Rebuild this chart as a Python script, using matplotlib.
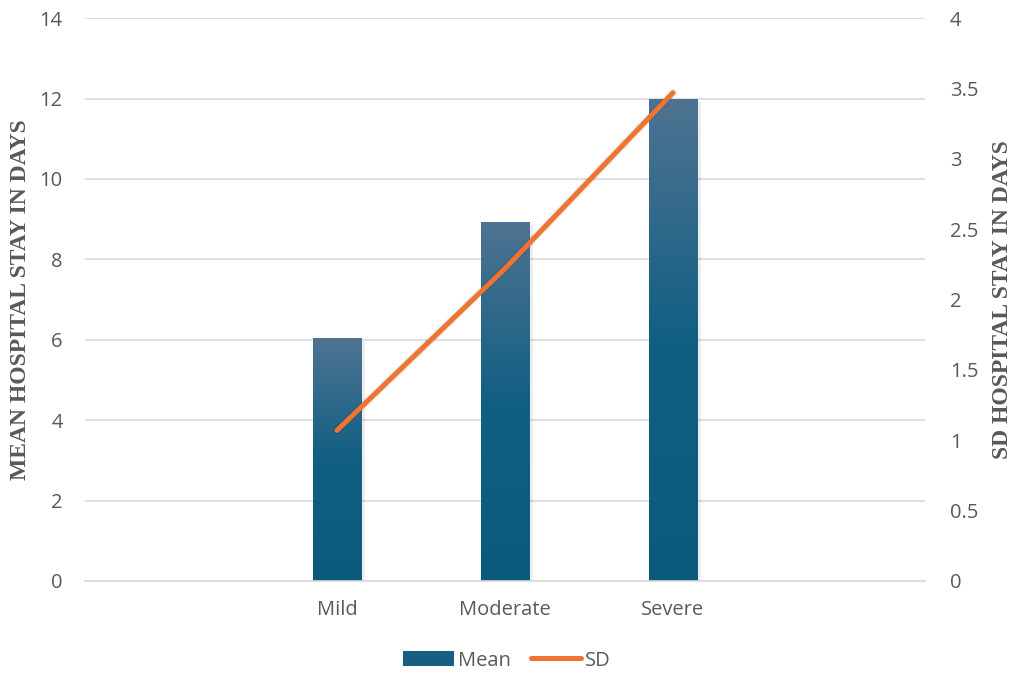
import numpy as np
import matplotlib
matplotlib.use('Agg')
import matplotlib.pyplot as plt
from matplotlib.colors import LinearSegmentedColormap
from matplotlib.lines import Line2D
from matplotlib.patches import Patch

# data
categories = ['Mild', 'Moderate', 'Severe']
mean_days = [6.05, 8.93, 12.0]
sd_days = [1.07, 2.22, 3.47]

grey = '#595959'
bar_top = '#4f7392'
bar_bottom = '#0b5a7d'
line_col = '#ed7431'

plt.rcParams['font.family'] = ['Open Sans', 'DejaVu Sans']

fig = plt.figure(figsize=(10.14, 6.74), dpi=100)
ax = fig.add_axes([0.0838, 0.138, 0.8284, 0.835])
ax2 = ax.twinx()

x = np.arange(len(categories))
width = 0.29

# soft shadow behind bars
ax.bar(x + 0.02, mean_days, width, bottom=-0.08, color='#000000', alpha=0.07, zorder=1)
bars = ax.bar(x, mean_days, width, color='none', zorder=2)

# vertical gradient in each bar
cmap = LinearSegmentedColormap.from_list('bar', [bar_bottom, '#115f83', bar_top])
grad = np.linspace(0, 1, 256).reshape(-1, 1)
for b in bars:
    x0, y0 = b.get_x(), b.get_y()
    w, h = b.get_width(), b.get_height()
    im = ax.imshow(grad, cmap=cmap, origin='lower', aspect='auto',
                   extent=[x0, x0 + w, y0, y0 + h], zorder=2)
    im.set_clip_path(b)

ax.set_xlim(-1.5, 2 + 1.5)
ax.set_ylim(0, 14)
ax.set_yticks(np.arange(0, 15, 2))
ax.grid(axis='y', color='#d9d9d9', linewidth=1.2, zorder=0)
ax.set_axisbelow(True)
ax.set_xticks(x)
ax.set_xticklabels(categories)

ax2.plot(x, sd_days, color='#000000', alpha=0.08, linewidth=5.5,
         solid_capstyle='round', zorder=3)
ax2.plot(x, sd_days, color=line_col, linewidth=3.6, solid_capstyle='round', zorder=4)
ax2.set_ylim(0, 4)
ax2.set_yticks(np.arange(0, 4.01, 0.5))
ax2.set_yticklabels(['0', '0.5', '1', '1.5', '2', '2.5', '3', '3.5', '4'])

for a in (ax, ax2):
    for s in a.spines.values():
        s.set_visible(False)
    a.tick_params(length=0, colors=grey, labelsize=14.5)
ax.tick_params(axis='y', pad=16)
ax.tick_params(axis='x', pad=14)
ax2.tick_params(axis='y', pad=18)
ax.spines['bottom'].set_visible(True)
ax.spines['bottom'].set_color('#d9d9d9')
ax.spines['bottom'].set_linewidth(1.2)

ax.set_ylabel('MEAN HOSPITAL STAY IN DAYS', family='Liberation Serif', fontweight='bold',
              fontsize=17, color=grey, labelpad=6)
ax2.set_ylabel('SD HOSPITAL STAY IN DAYS', family='Liberation Serif', fontweight='bold',
               fontsize=17, color=grey, labelpad=10)

handles = [Patch(facecolor='#165f82', edgecolor='none'),
           Line2D([0], [0], color=line_col, linewidth=3.6, solid_capstyle='round')]
leg = fig.legend(handles, ['Mean', 'SD'], loc='center', bbox_to_anchor=(0.5, 0.02),
                 ncol=2, frameon=False, fontsize=14.5, handlelength=2.5,
                 handletextpad=0.2, columnspacing=1.0)
for t in leg.get_texts():
    t.set_color(grey)

fig.savefig('out.png', dpi=100)
